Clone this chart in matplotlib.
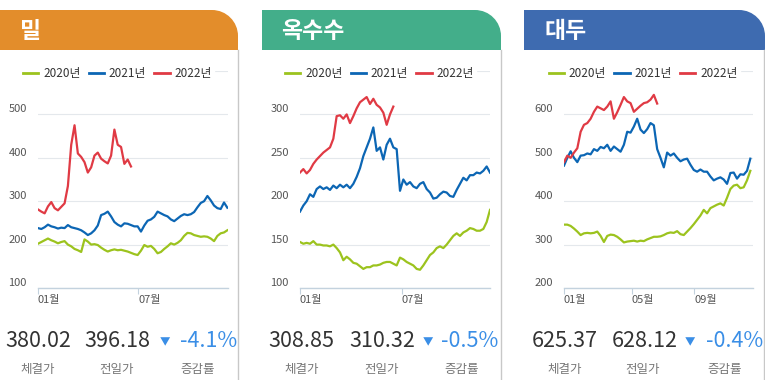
import numpy as np
import matplotlib
matplotlib.use('Agg')
import matplotlib.pyplot as plt
from matplotlib.path import Path
from matplotlib.patches import PathPatch
from matplotlib.lines import Line2D
from matplotlib.transforms import ScaledTranslation

plt.rcParams['font.family'] = ['Noto Sans CJK KR', 'DejaVu Sans']

# ---------------- data ----------------
titles = ['밀', '옥수수', '대두']
years = ['2020년', '2021년', '2022년']
month_labels = [['01월', '07월'], ['01월', '07월'], ['01월', '05월', '09월']]
ytick_vals = [[100, 200, 300, 400, 500], [100, 150, 200, 250, 300], [200, 300, 400, 500, 600]]

wheat_2020 = [202, 206, 210, 214, 210, 207, 203, 206, 208, 200, 196, 190, 187, 183, 212, 207, 200, 201, 199, 193,
              188, 184, 187, 189, 187, 188, 186, 184, 181, 178, 176, 186, 199, 195, 197, 190, 180, 183, 190, 196,
              203, 200, 204, 210, 220, 227, 226, 222, 220, 218, 219, 218, 214, 208, 220, 226, 228, 233]
wheat_2021 = [238, 236, 240, 246, 242, 240, 237, 239, 238, 245, 240, 238, 236, 233, 228, 222, 226, 233, 244, 268,
              271, 276, 265, 252, 246, 242, 249, 248, 245, 242, 242, 230, 244, 255, 258, 264, 276, 272, 268, 265,
              258, 254, 260, 266, 270, 268, 270, 275, 286, 296, 300, 312, 302, 290, 284, 282, 297, 285]
wheat_2022 = [281, 276, 272, 288, 298, 284, 279, 287, 295, 335, 430, 475, 410, 402, 390, 366, 378, 405, 412, 398,
              392, 387, 405, 465, 430, 425, 386, 396, 380]

corn_2020 = [153, 151, 152, 151, 154, 150, 150, 149, 149, 148, 150, 146, 141, 132, 136, 133, 129, 128, 125, 122,
             124, 124, 126, 126, 127, 129, 130, 130, 128, 126, 135, 133, 130, 128, 126, 122, 121, 126, 132, 138,
             141, 146, 148, 146, 150, 155, 160, 163, 160, 164, 166, 169, 168, 166, 166, 168, 176, 190]
corn_2021 = [188, 195, 200, 208, 205, 214, 217, 214, 216, 213, 218, 215, 219, 216, 219, 215, 220, 228, 238, 252,
             262, 272, 285, 258, 262, 248, 265, 272, 262, 260, 212, 225, 219, 222, 217, 215, 220, 222, 214, 210,
             203, 204, 208, 211, 210, 206, 205, 213, 220, 227, 224, 230, 230, 233, 232, 235, 240, 233]
corn_2022 = [233, 237, 232, 236, 243, 248, 252, 256, 259, 262, 272, 298, 299, 295, 300, 290, 298, 307, 314, 317,
             320, 312, 318, 311, 308, 302, 288, 300, 309]

soy_2020 = [346, 346, 343, 337, 330, 322, 326, 327, 326, 327, 330, 320, 306, 320, 323, 322, 318, 312, 305, 307,
            308, 309, 307, 309, 308, 312, 315, 318, 318, 319, 322, 326, 328, 327, 331, 324, 322, 330, 338, 347,
            357, 367, 380, 372, 384, 388, 392, 395, 390, 408, 428, 436, 438, 430, 432, 448, 470]
soy_2021 = [482, 500, 515, 500, 490, 505, 506, 510, 508, 520, 516, 525, 522, 530, 516, 526, 520, 514, 530, 560,
            558, 572, 590, 565, 557, 566, 580, 575, 520, 500, 478, 512, 505, 510, 500, 492, 496, 498, 484, 472,
            468, 473, 468, 468, 457, 448, 452, 455, 450, 440, 465, 466, 452, 462, 461, 470, 498]
soy_2022 = [490, 505, 500, 512, 522, 560, 576, 580, 590, 606, 618, 614, 610, 618, 630, 590, 605, 622, 640, 630,
            626, 606, 613, 620, 626, 628, 634, 645, 625]

series = [[wheat_2020, wheat_2021, wheat_2022],
          [corn_2020, corn_2021, corn_2022],
          [soy_2020, soy_2021, soy_2022]]

last_price = ['380.02', '308.85', '625.37']
prev_price = ['396.18', '310.32', '628.12']
change_pct = ['-4.1%', '-0.5%', '-0.4%']
stat_labels = ['체결가', '전일가', '증감률']

# ---------------- style / layout ----------------
line_colors = ['#9cc31e', '#0c66b4', '#e03a44']
header_colors = ['#e38d2b', '#43ae8a', '#3e6bb0']
W, H = 765, 380

layout = [
    dict(hdr=(0, 238), axx=(38, 228), title_x=20, border=238, xlim=57.2, mt=[0, 30.2],
         ylim=(100, 600), top=600, nums=(38, 117), tri=165, pct=209, labs=(38, 117, 198)),
    dict(hdr=(262, 501), axx=(300, 490), title_x=281, border=501, xlim=57.0, mt=[0, 30.5],
         ylim=(100, 350), top=350, nums=(301, 382), tri=428, pct=470, labs=(302, 382, 462)),
    dict(hdr=(524, 765), axx=(564, 753), title_x=545, border=764, xlim=56.8, mt=[0, 20.3, 39.1],
         ylim=(200, 700), top=700, nums=(565, 645), tri=690, pct=735, labs=(565, 643, 725)),
]

fig = plt.figure(figsize=(W / 100, H / 100), dpi=100)
bg = fig.add_axes([0, 0, 1, 1])
bg.set_xlim(0, W)
bg.set_ylim(H, 0)
bg.axis('off')


def header(x0, x1, y0, y1, r, color):
    k = 0.5523
    verts = [(x0, y1), (x0, y0), (x1 - r, y0),
             (x1 - r + k * r, y0), (x1, y0 + r - k * r), (x1, y0 + r),
             (x1, y1), (x0, y1)]
    codes = [Path.MOVETO, Path.LINETO, Path.LINETO,
             Path.CURVE4, Path.CURVE4, Path.CURVE4,
             Path.LINETO, Path.CLOSEPOLY]
    bg.add_patch(PathPatch(Path(verts, codes), facecolor=color, edgecolor='none'))


AX_TOP, AX_BOT = 71, 288
for p, cfg in enumerate(layout):
    hx0, hx1 = cfg['hdr']
    header(hx0, hx1, 10, 50, 26, header_colors[p])
    bg.text(cfg['title_x'], 31, titles[p], color='white', fontsize=16.5, fontweight='bold',
            ha='left', va='center')
    bg.plot([cfg['border'], cfg['border']], [50, H], color='#c8c8c8', lw=1.0)

    # stats
    ny, ly = 341, 369
    bg.text(cfg['nums'][0], ny, last_price[p], fontsize=15.5, color='#333333', ha='center', va='center')
    bg.text(cfg['nums'][1], ny, prev_price[p], fontsize=15.5, color='#333333', ha='center', va='center')
    bg.text(cfg['tri'], ny + 1, '▼', fontsize=7.5, color='#3a8ee6', ha='center', va='center')
    bg.text(cfg['pct'], ny, change_pct[p], fontsize=15.5, color='#3a8ee6', ha='center', va='center')
    for lx, lab in zip(cfg['labs'], stat_labels):
        bg.text(lx, ly, lab, fontsize=9, color='#777777', ha='center', va='center')

    # chart
    ax0, ax1 = cfg['axx']
    ax = fig.add_axes([ax0 / W, 1 - AX_BOT / H, (ax1 - ax0) / W, (AX_BOT - AX_TOP) / H])
    ax.set_facecolor('none')
    handles = []
    for s, vals in enumerate(series[p]):
        x = np.arange(len(vals))
        ax.plot(x, vals, color=line_colors[s], lw=1.6, solid_joinstyle='round', zorder=3)
        handles.append(Line2D([0], [0], color=line_colors[s], lw=2))
    ax.set_xlim(0, cfg['xlim'])
    ax.set_ylim(*cfg['ylim'])
    ax.set_yticks(ytick_vals[p])
    ax.set_yticklabels([str(v) for v in ytick_vals[p]])
    ax.grid(axis='y', color='#e4e8ec', lw=0.8, zorder=0)
    ax.axhline(cfg['top'], color='#e4e8ec', lw=0.8, zorder=0)
    ax.set_xticks(cfg['mt'])
    ax.set_xticklabels(month_labels[p])
    for sp in ['top', 'right', 'left']:
        ax.spines[sp].set_visible(False)
    ax.spines['bottom'].set_color('#c3d2de')
    ax.spines['bottom'].set_linewidth(1.0)
    ax.tick_params(axis='y', length=0, pad=8, labelsize=8, labelcolor='#555555')
    ax.tick_params(axis='x', length=4, color='#c3d2de', pad=1, labelsize=8, labelcolor='#555555')
    for lab in ax.get_xticklabels():
        lab.set_horizontalalignment('left')
    off = ScaledTranslation(0, 6 / 100, fig.dpi_scale_trans)
    for lab in ax.get_yticklabels():
        lab.set_transform(lab.get_transform() + off)
    leg = ax.legend(handles, years, loc='center', bbox_to_anchor=(0.418, 0.99), ncol=3,
                    frameon=True, facecolor='white', edgecolor='white', framealpha=1,
                    fontsize=8.5, handlelength=1.3, handletextpad=0.4, columnspacing=0.7,
                    borderpad=0.2, labelcolor='#333333')
    leg.set_zorder(10)

fig.savefig('out.png', dpi=100, facecolor='white')
